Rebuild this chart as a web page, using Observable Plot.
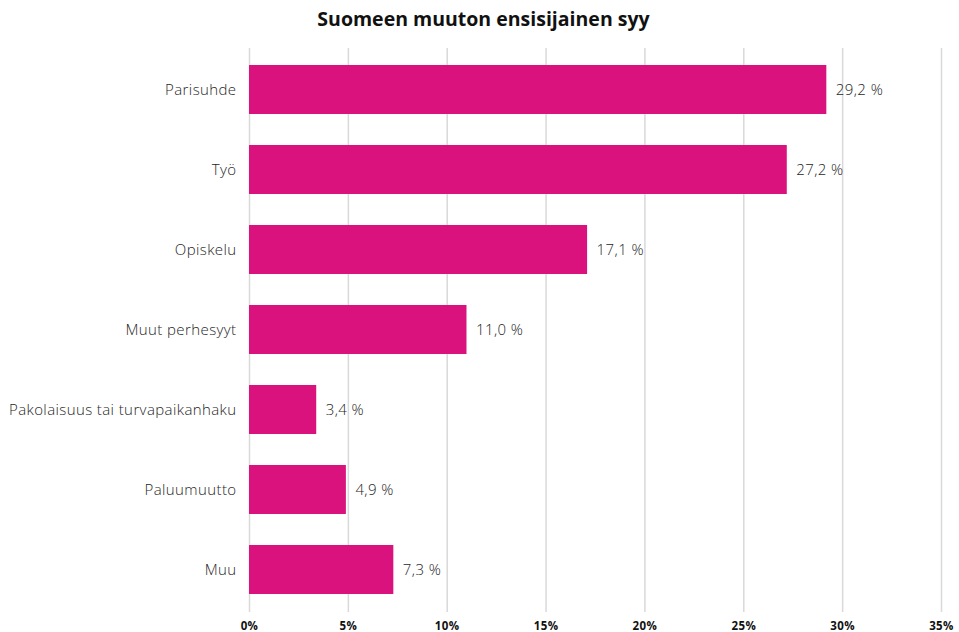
<!DOCTYPE html>
<html>
<head>
<meta charset="utf-8">
<script src="https://cdn.jsdelivr.net/npm/d3@7"></script>
<script src="https://cdn.jsdelivr.net/npm/@observablehq/plot@0.6"></script>
<style>
  html, body { margin: 0; padding: 0; background: #fff; }
  #title { height: 40px; width: 959px; text-align: center; font-family: "Open Sans", Roboto, sans-serif; font-weight: 700; font-size: 19.5px; line-height: 37px; color: #111; padding-left: 8px; box-sizing: border-box; }
  #chart svg text { letter-spacing: 0.4px; }
</style>
</head>
<body>
<div id="title">Suomeen muuton ensisijainen syy</div>
<div id="chart"></div>
<script>
const categories = ["Parisuhde", "Työ", "Opiskelu", "Muut perhesyyt", "Pakolaisuus tai turvapaikanhaku", "Paluumuutto", "Muu"];
const values = [29.2, 27.2, 17.1, 11.0, 3.4, 4.9, 7.3];
const xTicks = [0, 5, 10, 15, 20, 25, 30, 35];

const data = categories.map((c, i) => ({category: c, value: values[i]}));
const fmt = v => v.toFixed(1).replace(".", ",") + " %";

const chart = Plot.plot({
  width: 959,
  height: 592,
  marginTop: 8,
  marginBottom: 20,
  marginLeft: 249,
  marginRight: 18,
  style: {fontFamily: "'Open Sans', Roboto, sans-serif", background: "#fff"},
  x: {domain: [0, 35], ticks: xTicks},
  y: {domain: categories, paddingInner: 0.4, paddingOuter: 0.2},
  marks: [
    Plot.gridX(xTicks, {stroke: "#d9d9d9", strokeOpacity: 1, strokeWidth: 1.5}),
    Plot.barX(data, {y: "category", x: "value", fill: "#DA127D", insetTop: -1}),
    Plot.text(data, {y: "category", x: "value", text: d => fmt(d.value), textAnchor: "start", dx: 9, fontSize: 15, fill: "#262626", fontWeight: 300}),
    Plot.axisY({tickSize: 0, tickPadding: 13, fontSize: 15, fill: "#262626", fontWeight: 300, label: null}),
    Plot.axisX({ticks: xTicks, tickSize: 0, tickPadding: 9, fontSize: 11.5, fontWeight: 700, fill: "#111", tickFormat: d => d + "%", label: null})
  ]
});
document.getElementById("chart").appendChild(chart);
</script>
</body>
</html>
